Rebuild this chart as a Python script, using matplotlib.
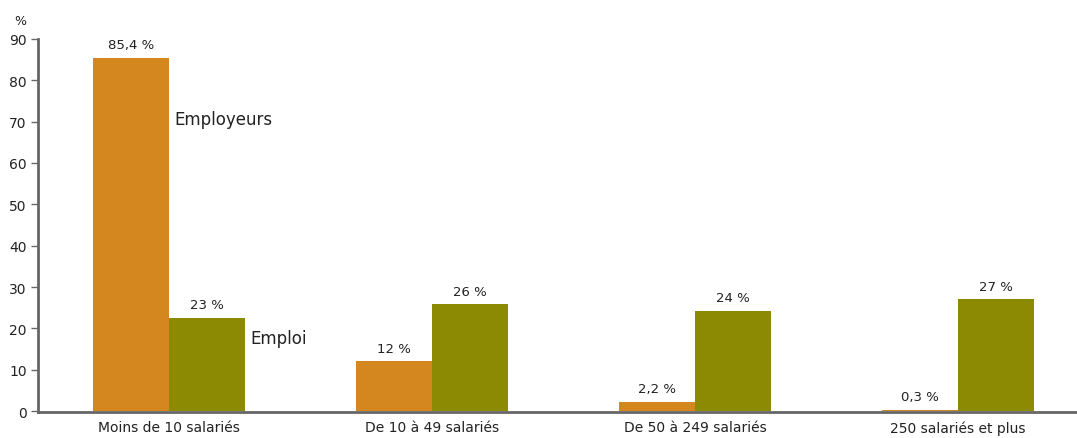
import numpy as np
import matplotlib.pyplot as plt

# données
categories = ["Moins de 10 salariés", "De 10 à 49 salariés", "De 50 à 249 salariés", "250 salariés et plus"]
employeurs = [85.4, 12, 2.2, 0.3]
emploi = [22.6, 25.8, 24.2, 27.0]
lab_employeurs = ["85,4 %", "12 %", "2,2 %", "0,3 %"]
lab_emploi = ["23 %", "26 %", "24 %", "27 %"]

c_orange = "#D3871E"
c_vert = "#8C8A02"
gris = "#666666"

fig = plt.figure(figsize=(10.77, 4.39), dpi=100)
ax = fig.add_axes([0.035, 0.059, 0.965, 0.85])

x = np.arange(len(categories))
w = 0.289
ax.bar(x - w / 2, employeurs, w, color=c_orange, edgecolor="none", zorder=2)
ax.bar(x + w / 2, emploi, w, color=c_vert, edgecolor="none", zorder=2)

for xi, v, t in zip(x - w / 2, employeurs, lab_employeurs):
    ax.text(xi, v + 1.6, t, ha="center", va="bottom", fontsize=9.5, color="#222222")
for xi, v, t in zip(x + w / 2, emploi, lab_emploi):
    ax.text(xi, v + 1.6, t, ha="center", va="bottom", fontsize=9.5, color="#222222")

ax.text(0.023, 70.7, "Employeurs", ha="left", va="center", fontsize=12, color="#222222")
ax.text(0.31, 17.6, "Emploi", ha="left", va="center", fontsize=12, color="#222222")

ax.set_xlim(-0.498, 3.452)
ax.set_ylim(-0.25, 90)
ax.set_yticks(range(0, 91, 10))
ax.set_xticks(x)
ax.set_xticklabels(categories, fontsize=10, color="#222222")
ax.tick_params(axis="x", length=0, pad=6)
ax.tick_params(axis="y", length=5, width=1, color=gris, labelsize=10, labelcolor="#222222", pad=3)

for s in ["top", "right"]:
    ax.spines[s].set_visible(False)
for s in ["left", "bottom"]:
    ax.spines[s].set_color(gris)
    ax.spines[s].set_linewidth(2)
    ax.spines[s].set_zorder(1)

fig.text(0.019, 0.95, "%", ha="center", va="center", fontsize=9, color="#222222")

fig.savefig("out.png", dpi=100)
